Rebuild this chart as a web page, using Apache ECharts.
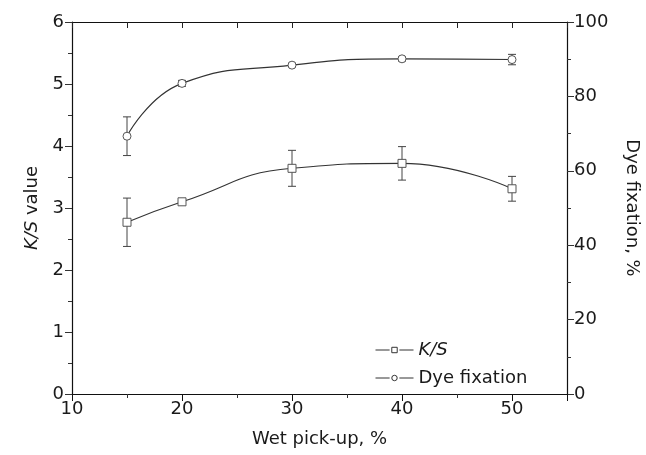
<!DOCTYPE html>
<html lang="en">
<head>
    <meta charset="UTF-8">
    <title>Wet pick-up</title>
    <script src="https://cdn.jsdelivr.net/npm/echarts@6/dist/echarts.min.js"></script>
</head>
<body style="margin: 0">
<div id="main" style="width: 646px; height: 455px"></div>
<script type="text/javascript">
    // wet pick-up, %
    var pickup = [15, 20, 30, 40, 50];
    // K/S value (left axis) and its error
    var ksValue = [2.77, 3.10, 3.64, 3.72, 3.31];
    var ksErr = [0.39, 0.04, 0.29, 0.27, 0.20];
    // dye fixation, % (right axis) and its error
    var fixValue = [69.3, 83.5, 88.4, 90.1, 89.9];
    var fixErr = [5.2, 0.8, 0.5, 0.6, 1.4];

    var textColor = '#1a1a1a';
    var font = 'DejaVu Sans';

    function pairs(xs, ys) {
        return xs.map(function (x, i) { return [x, ys[i]]; });
    }
    function bars(xs, ys, es) {
        return xs.map(function (x, i) { return [x, ys[i] - es[i], ys[i] + es[i]]; });
    }

    function errorBar(params, api) {
        var lo = api.coord([api.value(0), api.value(1)]);
        var hi = api.coord([api.value(0), api.value(2)]);
        var w = 4;
        var st = { stroke: '#444', lineWidth: 1 };
        return {
            type: 'group',
            children: [
                { type: 'line', shape: { x1: lo[0], y1: lo[1], x2: hi[0], y2: hi[1] }, style: st },
                { type: 'line', shape: { x1: lo[0] - w, y1: lo[1], x2: lo[0] + w, y2: lo[1] }, style: st },
                { type: 'line', shape: { x1: hi[0] - w, y1: hi[1], x2: hi[0] + w, y2: hi[1] }, style: st }
            ]
        };
    }

    // legend icons: "—□—" and "—○—"
    var iconRect = 'path://M0,4L13,4M15,1.5L20,1.5L20,6.5L15,6.5ZM22,4L35,4';
    var iconCircle = 'path://M0,4L13,4M15,4A2.5,2.5 0 1,0 20,4A2.5,2.5 0 1,0 15,4ZM22,4L35,4';

    var chart = echarts.init(document.getElementById('main'));
    var option = {
        animation: false,
        backgroundColor: '#fff',
        textStyle: { fontFamily: font, color: textColor },
        grid: { left: 72, right: 79, top: 22, bottom: 61, outerBoundsMode: 'none' },
        legend: {
            orient: 'vertical',
            left: 370,
            top: 336,
            itemWidth: 38,
            itemHeight: 9,
            itemGap: 10,
            data: [{ name: 'K/S', icon: iconRect }, { name: 'Dye fixation', icon: iconCircle }],
            itemStyle: { color: '#fff', borderColor: '#333', borderWidth: 1 },
            formatter: function (name) {
                return name === 'K/S' ? '{i|K/S}' : name;
            },
            textStyle: {
                fontSize: 18,
                color: textColor,
                fontFamily: font,
                rich: { i: { fontStyle: 'italic', fontSize: 18, fontFamily: font, color: textColor } }
            }
        },
        xAxis: [{
            type: 'value',
            min: 10,
            max: 55,
            interval: 10,
            name: 'Wet pick-up, %',
            nameLocation: 'middle',
            nameGap: 36,
            nameTextStyle: { fontSize: 18, color: textColor },
            axisLine: { lineStyle: { color: '#111', width: 1.2 } },
            axisTick: { inside: false, length: 7, lineStyle: { color: '#111' } },
            minorTick: { show: true, splitNumber: 2, length: 4, lineStyle: { color: '#333' } },
            axisLabel: { fontSize: 18, color: textColor, margin: 6, showMaxLabel: false },
            splitLine: { show: false }
        }, {
            // mirrored top edge, ticks pointing into the plot
            type: 'value',
            position: 'top',
            min: 10,
            max: 55,
            interval: 5,
            axisLine: { show: true, onZero: false, lineStyle: { color: '#111', width: 1.2 } },
            axisTick: { show: true, inside: false, length: -6, lineStyle: { color: '#222', width: 1 } },
            axisLabel: { show: false },
            splitLine: { show: false }
        }],
        yAxis: [{
            type: 'value',
            min: 0,
            max: 6,
            interval: 1,
            name: '{i|K/S} value',
            nameLocation: 'middle',
            nameGap: 28,
            nameRotate: 90,
            nameTextStyle: {
                fontSize: 18,
                color: textColor,
                rich: { i: { fontStyle: 'italic', fontSize: 18, color: textColor } }
            },
            axisLine: { show: true, lineStyle: { color: '#111', width: 1.2 } },
            axisTick: { show: true, length: 7, lineStyle: { color: '#333' } },
            minorTick: { show: true, splitNumber: 2, length: 4, lineStyle: { color: '#333' } },
            axisLabel: { fontSize: 18, color: textColor, margin: 8 },
            splitLine: { show: false }
        }, {
            type: 'value',
            position: 'right',
            min: 0,
            max: 100,
            interval: 20,
            name: 'Dye fixation, %',
            nameLocation: 'middle',
            nameGap: 56,
            nameRotate: -90,
            nameTextStyle: { fontSize: 18, color: textColor },
            axisLine: { show: true, lineStyle: { color: '#111', width: 1.2 } },
            axisTick: { show: true, length: 7, lineStyle: { color: '#333' } },
            minorTick: { show: true, splitNumber: 2, length: 4, lineStyle: { color: '#333' } },
            axisLabel: { fontSize: 18, color: textColor, margin: 7 },
            splitLine: { show: false }
        }],
        series: [{
            name: 'K/S',
            type: 'line',
            xAxisIndex: 0,
            yAxisIndex: 0,
            smooth: 0.5,
            data: pairs(pickup, ksValue),
            symbol: 'rect',
            symbolSize: 8,
            lineStyle: { color: '#333', width: 1.1 },
            itemStyle: { color: '#fff', borderColor: '#555', borderWidth: 1 },
            z: 3
        }, {
            name: 'Dye fixation',
            type: 'line',
            xAxisIndex: 1,
            yAxisIndex: 1,
            smooth: 0.5,
            data: pairs(pickup, fixValue),
            symbol: 'circle',
            symbolSize: 8,
            lineStyle: { color: '#333', width: 1.1 },
            itemStyle: { color: '#fff', borderColor: '#555', borderWidth: 1 },
            z: 3
        }, {
            type: 'custom',
            xAxisIndex: 0,
            yAxisIndex: 0,
            renderItem: errorBar,
            encode: { x: 0, y: [1, 2] },
            data: bars(pickup, ksValue, ksErr),
            z: 2
        }, {
            type: 'custom',
            xAxisIndex: 1,
            yAxisIndex: 1,
            renderItem: errorBar,
            encode: { x: 0, y: [1, 2] },
            data: bars(pickup, fixValue, fixErr),
            z: 2
        }]
    };
    chart.setOption(option);
</script>
</body>
</html>
